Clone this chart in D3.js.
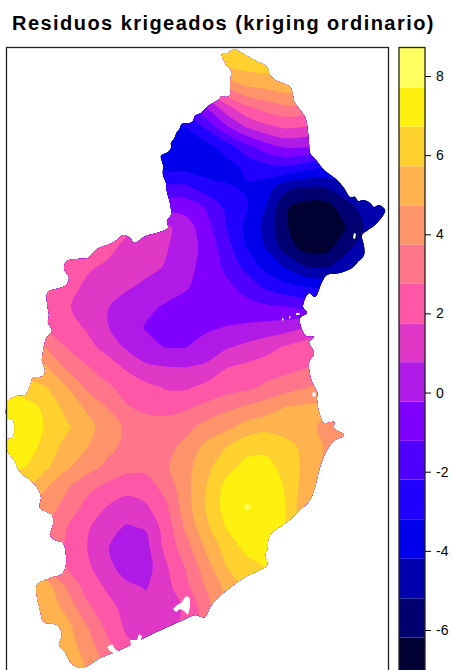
<html>
    <head>
        <style>
            body { margin: 0; background: white; }
        </style>
    </head>
    <body>

        <svg id="content"></svg>

        <script src="https://cdn.jsdelivr.net/npm/d3@7"></script>
        <script>

            let bodyWidth = 454;
            let bodyHeight = 670;

            // limits of the 16 classes in the legend
            let breaks = [-7.17, -6.19, -5.2, -4.2, -3.2, -2.2, -1.22, -0.23, 0.77, 1.75, 2.75, 3.74, 4.73, 5.72, 6.72, 7.7, 8.74];
            let classColors = ["#000033", "#000070", "#0000AD", "#0000EB", "#2000FF", "#5000FF", "#8000FF", "#AF1AE6",
                               "#DF38C7", "#FF57A8", "#FF758A", "#FF946B", "#FFB24D", "#FFD12E", "#FFF00F", "#FFFF60"];
            let tickLabels = [8, 6, 4, 2, 0, -2, -4, -6];

            let gridColumns = 21;
            let gridRows = 33;
            let residuals = [
                [2, 2, 2, 2, 2, 2, 2, 2, 2, 3, 5, 6.4, 6.6, 6.7, 6.8, 6.8, 6.8, 6.8, 6.8, 6.8, 6.8],
                [1, 1, 1, 1, 1, 1, 1, 1, 1, 2.5, 4.4, 5.7, 6, 6.1, 6.3, 6.3, 6.3, 6.3, 6.3, 6.3, 6.3],
                [0, 0, 0, 0, 0, 0, 0, 0, 0, 1, 2.2, 3.8, 4.7, 4.9, 5.2, 5.2, 5.2, 5.2, 5.2, 5.2, 5.2],
                [0.5, 0.5, 0.5, 0, -0.5, -1, -1.2, -1.5, -1.7, -1.5, -0.2, 1.4, 2.6, 3.2, 3.6, 3.5, 3.4, 3.4, 3.4, 3.4, 3.4],
                [1, 1, 1, 0.5, 0, -0.5, -1.5, -2.5, -3.5, -3.2, -2, -0.4, 0.8, 1.5, 1.9, 1.7, 1.5, 1.5, 1.5, 1.5, 1.5],
                [1.5, 1.5, 1.5, 1, 0.5, 0, -1, -3, -3.9, -3.8, -3.6, -2.8, -1.6, -0.7, -0.1, -0.2, -0.3, -0.4, -0.4, -0.4, -0.4],
                [2, 2, 2, 2, 1.5, 1, 0, -2, -3.5, -3.6, -3.7, -3.6, -3, -2.5, -2.3, -2.8, -3.2, -3.3, -3.3, -3.3, -3.3],
                [2.5, 2.5, 2.5, 2.5, 2.2, 1.8, 1, -1, -1.9, -2, -2.8, -3.1, -3.3, -3.7, -4.9, -5.2, -5.1, -4.5, -4, -3.7, -3.4],
                [3, 3, 3, 3, 2.8, 2.5, 2, 1, -0.5, -0.6, -1.3, -2.4, -3.1, -4.2, -6.1, -6.6, -6.6, -5.6, -4.7, -4.1, -3.6],
                [3.5, 3.5, 3.4, 3.2, 2.8, 2.4, 2, 1.5, 1, 0.2, -0.8, -2.2, -3.4, -4.5, -6.1, -7, -7, -6.2, -5.1, -4.2, -3.5],
                [3.5, 3.5, 3.3, 3, 2.6, 2.1, 1.5, 1.15, 0.85, 0.25, -0.55, -1.75, -3.2, -4.25, -5.7, -6.6, -6.6, -5.5, -4.6, -3.9, -3.4],
                [4, 4, 3.5, 2.2, 1.9, 1.6, 1.3, 1.05, 0.7, 0.1, -0.6, -1.4, -2.5, -3.5, -4.3, -5.2, -5.3, -4.7, -4.1, -3.6, -3.2],
                [4, 3.8, 3, 2.1, 1.6, 1.2, 0.9, 0.55, 0.2, -0.15, -0.6, -1, -1.5, -2.4, -2.9, -3.2, -3.4, -3.4, -3.2, -3, -2.8],
                [4, 3.5, 2.6, 1.9, 1.3, 0.85, 0.35, 0, -0.35, -0.55, -0.7, -0.85, -0.95, -1.05, -1.17, -1.5, -1.6, -1.8, -1.8, -1.8, -1.8],
                [4.5, 3.6, 2.65, 2.15, 1.65, 0.85, 0.3, -0.3, -0.55, -0.5, -0.4, -0.2, -0.05, 0.1, 0.3, 0.75, 1, 1, 1, 1, 1],
                [5, 4.5, 3.7, 2.75, 2.1, 1.45, 0.65, 0.05, -0.27, -0.25, 0.15, 0.65, 1, 1.4, 1.85, 2.3, 2.6, 2.6, 2.6, 2.6, 2.6],
                [5.5, 5.2, 4.8, 3.6, 2.85, 2.25, 1.6, 0.95, 0.8, 0.75, 0.95, 1.7, 1.95, 2.2, 2.4, 2.7, 2.9, 3, 3, 3, 3],
                [6.5, 6.1, 5.75, 4.8, 3.6, 2.95, 2.4, 2, 1.65, 1.6, 2, 2.3, 2.5, 2.95, 3.3, 3.7, 4, 4, 4, 4, 4],
                [7.3, 7.1, 6.5, 5.4, 4.6, 3.75, 2.85, 2.5, 2.35, 2.6, 3, 3.5, 3.85, 4.2, 4.75, 4.9, 4.9, 4.7, 4.5, 4.5, 4.5],
                [7.6, 7.5, 6.6, 5.9, 5.15, 4.25, 3.6, 3.25, 3.25, 3.45, 4.1, 4.45, 5.1, 5.45, 5.35, 5, 4.5, 4.2, 4, 4, 4],
                [7.6, 7.3, 6.3, 5.4, 4.8, 4.05, 3.5, 3.3, 3.4, 4.05, 5, 5.7, 6.45, 6.5, 6, 5.5, 4.6, 4, 3.8, 3.8, 3.8],
                [7, 6.7, 5.9, 4.9, 4.2, 3.55, 3.1, 3, 3.6, 4.4, 5.4, 6.4, 6.95, 7, 6.4, 5.4, 4.4, 3.8, 3.6, 3.6, 3.6],
                [6, 5.9, 4.8, 3.9, 3.05, 2.55, 2.1, 2.3, 3.1, 4.4, 5.7, 7, 7.4, 7.4, 6.6, 5.2, 4.2, 3.7, 3.5, 3.5, 3.5],
                [5, 4.8, 4.2, 3.4, 2.5, 1.75, 1.3, 1.6, 2.6, 4.3, 5.8, 7.1, 7.75, 7.55, 6.7, 4.85, 3.9, 3.5, 3.4, 3.4, 3.4],
                [4.5, 4.2, 3.8, 2.8, 1.95, 1.1, 0.7, 0.85, 2.2, 3.95, 5.5, 6.75, 7.45, 7.5, 6.7, 5, 4, 3.5, 3.4, 3.4, 3.4],
                [4.5, 4, 3.6, 2.65, 1.8, 0.85, 0.35, 0.5, 2.05, 3.35, 4.9, 6.1, 7, 7.3, 6.8, 5.5, 4.4, 3.5, 3.4, 3.4, 3.4],
                [4.8, 4.3, 3.8, 2.75, 2, 1.1, 0.35, 0.35, 1.6, 2.85, 4.3, 5.7, 6.3, 6.75, 6.6, 5.5, 4.4, 3.5, 3.4, 3.4, 3.4],
                [6, 5.6, 5.2, 3.7, 2.4, 1.65, 1, 0.7, 1.4, 2.5, 3.8, 5, 6, 6.5, 6.5, 5.5, 4.4, 3.5, 3.4, 3.4, 3.4],
                [6, 5.8, 5.4, 4.45, 3, 2.1, 1.45, 1.15, 1.4, 1.85, 3.35, 4.8, 5.8, 6.2, 6.2, 5.5, 4.4, 3.5, 3.4, 3.4, 3.4],
                [6, 5.9, 5.6, 5.1, 3.85, 2.6, 1.6, 1.35, 1.4, 2, 3.2, 4.5, 5.5, 6, 6, 5.5, 4.4, 3.5, 3.4, 3.4, 3.4],
                [6, 5.9, 5.7, 5.3, 4.3, 3.1, 2, 1.6, 1.5, 2.2, 3.2, 4.5, 5.5, 6, 6, 5.5, 4.4, 3.5, 3.4, 3.4, 3.4],
                [6, 6, 5.8, 5.4, 4.7, 3.6, 2.5, 1.9, 1.7, 2.4, 3.4, 4.5, 5.5, 6, 6, 5.5, 4.4, 3.5, 3.4, 3.4, 3.4],
                [6, 6, 5.8, 5.4, 4.7, 3.6, 2.5, 1.9, 1.7, 2.4, 3.4, 4.5, 5.5, 6, 6, 5.5, 4.4, 3.5, 3.4, 3.4, 3.4]
            ];

            // coast of the study area in km from the frame's top left corner
            let coastline = [
                [228, 2], [222, 6], [216, 7], [218, 14], [222, 20], [225, 24], [224, 37], [224, 48], [220, 50], [216, 49], [212, 53],
                [202, 59], [195, 66], [189, 69], [187, 74], [184, 76], [176, 77], [173, 83], [171, 85], [168, 92], [165, 96], [165, 101],
                [162, 105], [155, 109], [157, 118], [157, 128],
                [160, 136], [161, 145], [164, 156], [165, 168], [161, 174], [162, 181], [154, 185], [140, 189], [128, 196], [124, 191],
                [117, 188], [111, 193], [104, 197], [91, 202], [82, 211], [72, 212], [61, 214], [58, 221], [63, 231], [60, 238],
                [54, 241], [42, 245], [41, 256], [43, 268], [42, 275], [46, 284], [40, 292], [37, 305], [36, 314], [39, 323], [37, 329],
                [27, 331], [24, 339], [19, 348], [11, 349], [2, 354], [1, 371], [7, 373], [7, 390], [1, 393], [2, 405], [8, 413],
                [14, 425], [24, 433], [31, 440], [35, 450], [34, 461], [46, 468], [47, 478], [44, 488], [49, 493], [57, 496], [60, 508],
                [60, 518], [56, 527], [44, 531], [31, 538], [31, 550], [34, 563], [38, 575], [51, 578], [56, 588], [53, 598], [59, 605],
                [66, 617], [76, 621], [94, 611], [114, 603], [144, 588], [177, 573], [189, 568], [199, 570], [204, 560], [212, 551],
                [221, 543], [239, 530], [261, 518], [259, 508], [261, 503], [264, 488], [281, 475], [294, 463], [304, 453], [309, 440],
                [314, 420], [321, 403], [328, 394], [338, 388], [328, 381], [328, 375], [318, 376], [313, 365], [311, 353], [311, 345],
                [306, 335], [304, 328], [303, 315], [308, 306], [303, 295], [308, 290], [300, 289], [296, 283], [294, 271], [301, 266],
                [297, 260], [303, 246], [309, 250], [316, 235], [321, 228], [334, 226], [346, 221], [351, 216], [358, 208], [358, 199],
                [356, 188], [362, 183], [369, 178], [378, 167], [379, 163], [373, 158], [368, 160], [364, 156], [358, 153], [352, 154], [349, 150], [344, 150], [338, 141], [331, 133],
                [318, 123], [310, 113], [304, 106], [303, 96], [302, 86], [299, 70], [289, 56], [284, 40], [269, 33], [264, 28],
                [261, 20], [248, 13], [234, 5]
            ];

            // inlets and small islands left white on the map
            let whiteSpots = [
                [[101, 600], [106, 597], [109, 602], [113, 605], [111, 608], [104, 604]],
                [[124, 593], [131, 593], [133, 587], [136, 589], [134, 596], [128, 599], [125, 598]],
                [[167, 562], [171, 558], [175, 556], [180, 549], [184, 551], [184, 560], [182, 568], [178, 564], [174, 562], [170, 565]],
                [[276, 271], [278, 272], [276, 274]],
                [[283, 269], [285, 270], [283, 272]],
                [[290, 266], [294, 266], [293, 268], [290, 268]],
                [[348, 186], [350, 187], [349, 192], [347, 191]],
                [[352, 214], [355, 215], [353, 218]],
                [[306, 346], [309, 345], [310, 349], [307, 350]]
            ];

            let body = d3.select("#content")
                            .attr("width", bodyWidth)
                            .attr("height", bodyHeight)
                            .style("display", "block");

            body.append("text")
                .text("Residuos krigeados (kriging ordinario)")
                .attr("x", 12)
                .attr("y", 30)
                .attr("font-family", "Liberation Sans")
                .attr("font-weight", "bold")
                .attr("font-size", 20)
                .attr("letter-spacing", 1.45)
                .attr("fill", "black");

            // map scales, km to pixels
            let xScale = d3.scaleLinear().domain([0, 400]).range([6, 406]);
            let yScale = d3.scaleLinear().domain([0, 640]).range([47, 687]);

            let contours = d3.contours()
                                .size([gridColumns, gridRows])
                                .thresholds(breaks.slice(0, -1))
                                (residuals.flat());

            // d3.contours puts grid value i at coordinate i + 0.5
            let ringLine = d3.line()
                                .x(d => xScale((d[0] - 0.5) * 20))
                                .y(d => yScale((d[1] - 0.5) * 20))
                                .curve(d3.curveCatmullRomClosed.alpha(0.5));

            function contourPath(contour){
                return contour.coordinates
                                .flat()
                                .map(ring => ringLine(ring.slice(0, -1)))
                                .join("");
            }

            let coastLine = d3.line().x(d => xScale(d[0])).y(d => yScale(d[1]));
            let smoothCoast = d3.line()
                                .x(d => xScale(d[0]))
                                .y(d => yScale(d[1]))
                                .curve(d3.curveCatmullRomClosed.alpha(0.5));

            body.append("clipPath")
                .attr("id", "coast")
                .append("path")
                .attr("d", smoothCoast(coastline));

            body.append("g")
                .attr("clip-path", "url(#coast)")
                .selectAll("path")
                .data(contours)
                .enter()
                .append("path")
                .attr("d", contourPath)
                .attr("fill", (d, i) => classColors[i]);

            body.append("g")
                .selectAll("path")
                .data(whiteSpots)
                .enter()
                .append("path")
                .attr("d", d => coastLine(d) + "Z")
                .attr("fill", "white");

            // map frame
            body.append("rect")
                .attr("x", 6.5)
                .attr("y", 47.5)
                .attr("width", 382)
                .attr("height", 660)
                .attr("fill", "none")
                .attr("stroke", "#222")
                .attr("stroke-width", 1.3);

            // legend
            let legendScale = d3.scaleLinear().domain([-6, 8]).range([630, 76]);
            let classes = d3.pairs(breaks);

            body.append("g")
                .selectAll("rect")
                .data(classes)
                .enter()
                .append("rect")
                .attr("x", 399)
                .attr("width", 26)
                .attr("y", d => legendScale(d[1]))
                .attr("height", d => legendScale(d[0]) - legendScale(d[1]))
                .attr("fill", (d, i) => classColors[i]);

            body.append("rect")
                .attr("x", 399)
                .attr("y", 47.5)
                .attr("width", 26)
                .attr("height", 660)
                .attr("fill", "none")
                .attr("stroke", "#222")
                .attr("stroke-width", 1.3);

            let legendAxis = d3.axisRight(legendScale)
                                .tickValues(tickLabels)
                                .tickSize(6)
                                .tickPadding(5)
                                .tickFormat(d => d);

            let axisGroup = body.append("g")
                                .attr("transform", "translate(425, 0)")
                                .call(legendAxis);

            axisGroup.select(".domain").remove();
            axisGroup.selectAll("text")
                        .attr("font-family", "Liberation Sans")
                        .attr("font-size", 14)
                        .attr("fill", "black");

        </script>
    </body>
</html>
